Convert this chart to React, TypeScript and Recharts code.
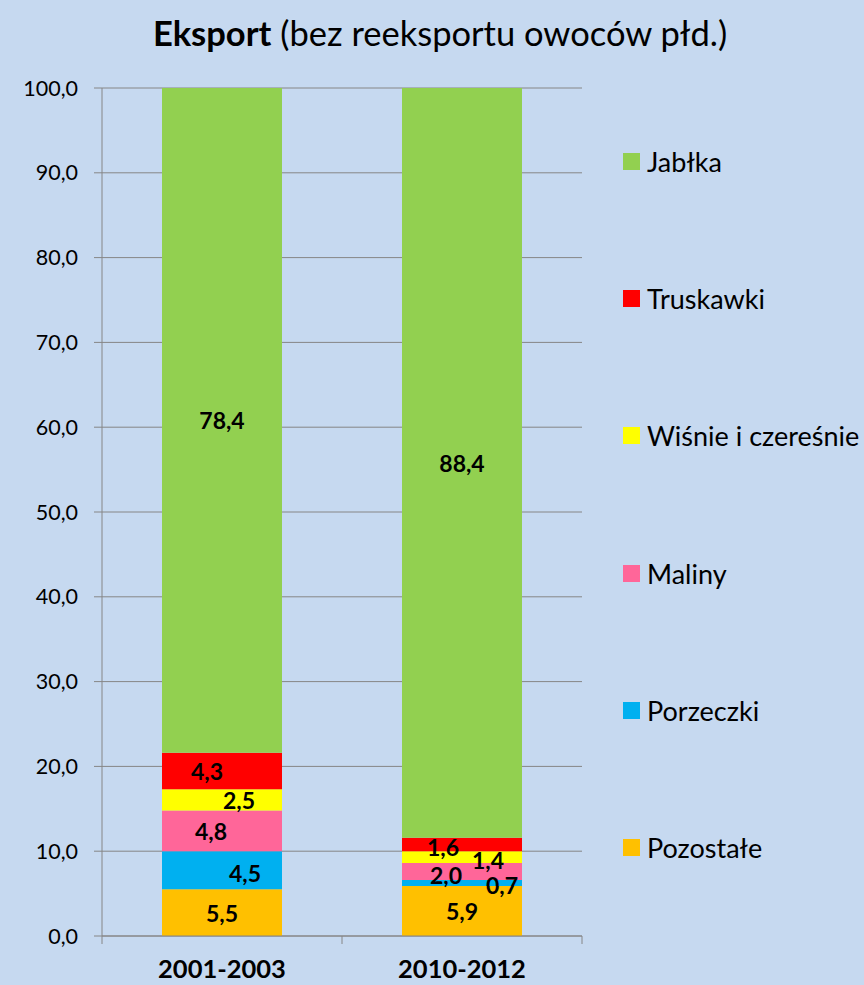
import { BarChart, Bar, XAxis, YAxis, CartesianGrid, Legend, LabelList } from "recharts";

const PERIODS = ["2001-2003", "2010-2012"];
const POZOSTALE = [5.5, 5.9];
const PORZECZKI = [4.5, 0.7];
const MALINY = [4.8, 2.0];
const WISNIE = [2.5, 1.4];
const TRUSKAWKI = [4.3, 1.6];
const JABLKA = [78.4, 88.4];
const Y_TICKS = [0, 10, 20, 30, 40, 50, 60, 70, 80, 90, 100];

const data = PERIODS.map((period, i) => ({
  period,
  pozostale: POZOSTALE[i],
  porzeczki: PORZECZKI[i],
  maliny: MALINY[i],
  wisnie: WISNIE[i],
  truskawki: TRUSKAWKI[i],
  jablka: JABLKA[i],
}));

// stacked bottom -> top, with horizontal nudge of labels per period (as in the source)
const SERIES = [
  { key: "pozostale", name: "Pozostałe", color: "#ffc000", shift: [0, 0], down: [0, 0] },
  { key: "porzeczki", name: "Porzeczki", color: "#00b0f0", shift: [23, 40], down: [3, 2] },
  { key: "maliny", name: "Maliny", color: "#ff6699", shift: [-11, -16], down: [0, 3] },
  { key: "wisnie", name: "Wiśnie i czereśnie", color: "#ffff00", shift: [17, 26], down: [0, 3] },
  { key: "truskawki", name: "Truskawki", color: "#ff0000", shift: [-15, -19], down: [0, 3] },
  { key: "jablka", name: "Jabłka", color: "#92d050", shift: [0, 0], down: [0, 0] },
];

const FONT = "Lato, 'Open Sans', sans-serif";
const fmt = (v: number) => v.toFixed(1).replace(".", ",");

const makeLabel = (s: (typeof SERIES)[number]) => (props: any) => {
  const { x, y, width, height, value, index } = props;
  return (
    <text
      x={x + width / 2 + s.shift[index]}
      y={y + height / 2 + s.down[index]}
      textAnchor="middle"
      dominantBaseline="central"
      fontFamily={FONT}
      fontWeight={700}
      fontSize={23}
      fill="#000"
    >
      {fmt(value)}
    </text>
  );
};

const PeriodTick = (props: any) => {
  const { x, y, payload, index, visibleTicksCount } = props;
  const half = payload.offset ?? 120;
  return (
    <g>
      <line x1={x - half} y1={y - 8} x2={x - half} y2={y} stroke="#868686" />
      {index === visibleTicksCount - 1 ? (
        <line x1={x + half} y1={y - 8} x2={x + half} y2={y} stroke="#868686" />
      ) : null}
      <text
        x={x}
        y={y + 34}
        textAnchor="middle"
        fontFamily={FONT}
        fontWeight={700}
        fontSize={25.5}
        fill="#000"
      >
        {payload.value}
      </text>
    </g>
  );
};

const LegendBox = () => (
  <div style={{ fontFamily: FONT, fontSize: 27, color: "#000" }}>
    {[...SERIES].reverse().map((s) => (
      <div key={s.key} style={{ display: "flex", alignItems: "center", height: 137.2 }}>
        <span style={{ width: 17, height: 17, background: s.color, marginRight: 7, flexShrink: 0 }} />
        <span style={{ whiteSpace: "nowrap" }}>{s.name}</span>
      </div>
    ))}
  </div>
);

export default function App() {
  return (
    <div
      style={{
        position: "absolute",
        left: 0,
        top: 0,
        width: 864,
        height: 985,
        background: "#c6d9f0",
        overflow: "hidden",
      }}
    >
      <div
        style={{
          position: "absolute",
          left: 0,
          top: 13,
          width: 880,
          textAlign: "center",
          fontFamily: FONT,
          fontSize: 34.5,
          lineHeight: "40px",
          color: "#000",
        }}
      >
        <b>Eksport</b> (bez reeksportu owoców płd.)
      </div>
      <BarChart
        width={864}
        height={985}
        data={data}
        margin={{ top: 88, right: 282, bottom: 0, left: 0 }}
        barCategoryGap="25%"
      >
        <CartesianGrid vertical={false} stroke="#868686" />
        <XAxis
          dataKey="period"
          height={49}
          axisLine={{ stroke: "#868686" }}
          tickLine={false}
          tick={<PeriodTick />}
        />
        <YAxis
          width={102}
          domain={[0, 100]}
          ticks={Y_TICKS}
          interval={0}
          tickFormatter={fmt}
          axisLine={{ stroke: "#868686" }}
          tickLine={{ stroke: "#868686" }}
          tickSize={8}
          tickMargin={16}
          tick={{ fontFamily: FONT, fontSize: 21.5, fill: "#000" }}
        />
        <Legend
          layout="vertical"
          align="center"
          verticalAlign="middle"
          content={<LegendBox />}
          wrapperStyle={{ left: 623, top: 93, width: 241 }}
        />
        {SERIES.map((s) => (
          <Bar
            key={s.key}
            dataKey={s.key}
            name={s.name}
            stackId="a"
            fill={s.color}
            isAnimationActive={false}
          >
            <LabelList dataKey={s.key} content={makeLabel(s)} />
          </Bar>
        ))}
      </BarChart>
    </div>
  );
}
